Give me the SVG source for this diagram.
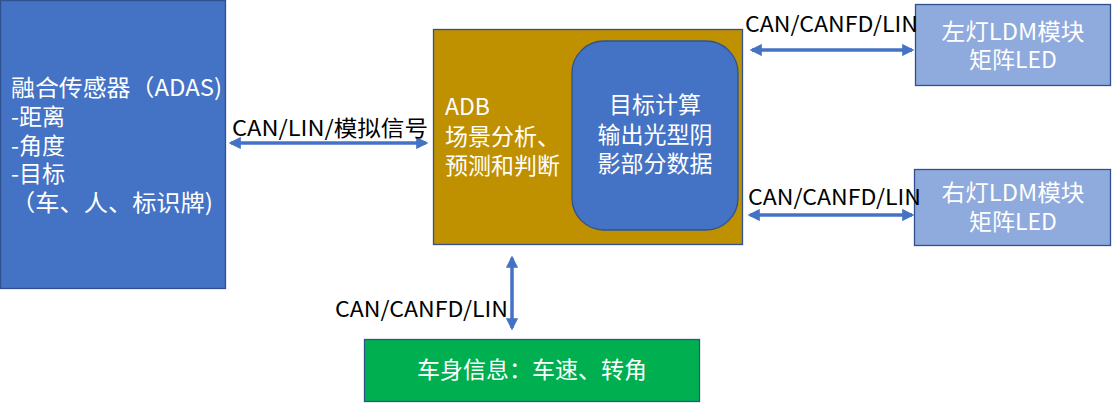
<svg xmlns="http://www.w3.org/2000/svg" width="1112" height="403" viewBox="0 0 1112 403">
<style>
.lbl{font-family:"Noto Sans CJK SC","Noto Sans",sans-serif;font-size:21.5px;fill:#000}
.wt{font-family:"Noto Sans CJK SC","Noto Sans",sans-serif;font-size:23px;fill:#fff}
.box{stroke:#2F528F;stroke-width:1.3}
.conn{stroke:#4472C4;stroke-width:3.5;fill:none;marker-start:url(#ah);marker-end:url(#ah)}
</style>
<defs>
<marker id="ah" viewBox="0 0 10 10" refX="8" refY="5" markerWidth="4.5" markerHeight="3.5" orient="auto-start-reverse" markerUnits="strokeWidth">
<path d="M0,0 L10,5 L0,10 z" fill="#4472C4"/>
</marker>
</defs>
<rect width="1112" height="403" fill="#fff"/>
<g id="sensor">
<rect class="box" x="0.5" y="0.5" width="225" height="288" fill="#4472C4"/>
<text class="wt"><tspan x="11" y="96" textLength="211" lengthAdjust="spacingAndGlyphs">融合传感器（ADAS)</tspan><tspan x="11" y="125">-距离</tspan><tspan x="11" y="154">-角度</tspan><tspan x="11" y="182">-目标</tspan><tspan x="11" y="211" textLength="202" lengthAdjust="spacingAndGlyphs">（车、人、标识牌)</tspan></text>
</g>
<g id="adb">
<rect class="box" x="433.5" y="29.5" width="309" height="215" fill="#BF9000"/>
<text class="wt"><tspan x="445" y="115">ADB</tspan><tspan x="445" y="145">场景分析、</tspan><tspan x="445" y="174">预测和判断</tspan></text>
</g>
<g id="calc">
<rect class="box" x="572" y="41" width="166" height="189" rx="32" fill="#4472C4"/>
<text class="wt" text-anchor="middle"><tspan x="655" y="113">目标计算</tspan><tspan x="655" y="143">输出光型阴</tspan><tspan x="655" y="172">影部分数据</tspan></text>
</g>
<g id="left-ldm">
<rect class="box" x="915.5" y="4.5" width="195" height="81" fill="#8FAADC"/>
<text class="wt" text-anchor="middle"><tspan x="1013" y="40" textLength="143" lengthAdjust="spacingAndGlyphs">左灯LDM模块</tspan><tspan x="1013" y="68">矩阵LED</tspan></text>
</g>
<g id="right-ldm">
<rect class="box" x="914.5" y="169.5" width="196" height="76" fill="#8FAADC"/>
<text class="wt" text-anchor="middle"><tspan x="1013" y="201" textLength="143" lengthAdjust="spacingAndGlyphs">右灯LDM模块</tspan><tspan x="1013" y="230">矩阵LED</tspan></text>
</g>
<g id="body">
<rect class="box" x="364.5" y="339.5" width="335" height="62" fill="#00B050"/>
<text class="wt" x="532" y="378" text-anchor="middle">车身信息：车速、转角</text>
</g>
<g id="connectors">
<line class="conn" x1="231" y1="143" x2="426" y2="143"/>
<line class="conn" x1="752" y1="50" x2="912" y2="50"/>
<line class="conn" x1="750" y1="215" x2="912" y2="215"/>
<line class="conn" x1="512" y1="258" x2="512" y2="328"/>
<text class="lbl" x="232" y="136" textLength="196" lengthAdjust="spacingAndGlyphs">CAN/LIN/模拟信号</text>
<text class="lbl" x="745" y="32" textLength="173" lengthAdjust="spacingAndGlyphs">CAN/CANFD/LIN</text>
<text class="lbl" x="748" y="205" textLength="173" lengthAdjust="spacingAndGlyphs">CAN/CANFD/LIN</text>
<text class="lbl" x="335" y="317" textLength="173" lengthAdjust="spacingAndGlyphs">CAN/CANFD/LIN</text>
</g>
</svg>
